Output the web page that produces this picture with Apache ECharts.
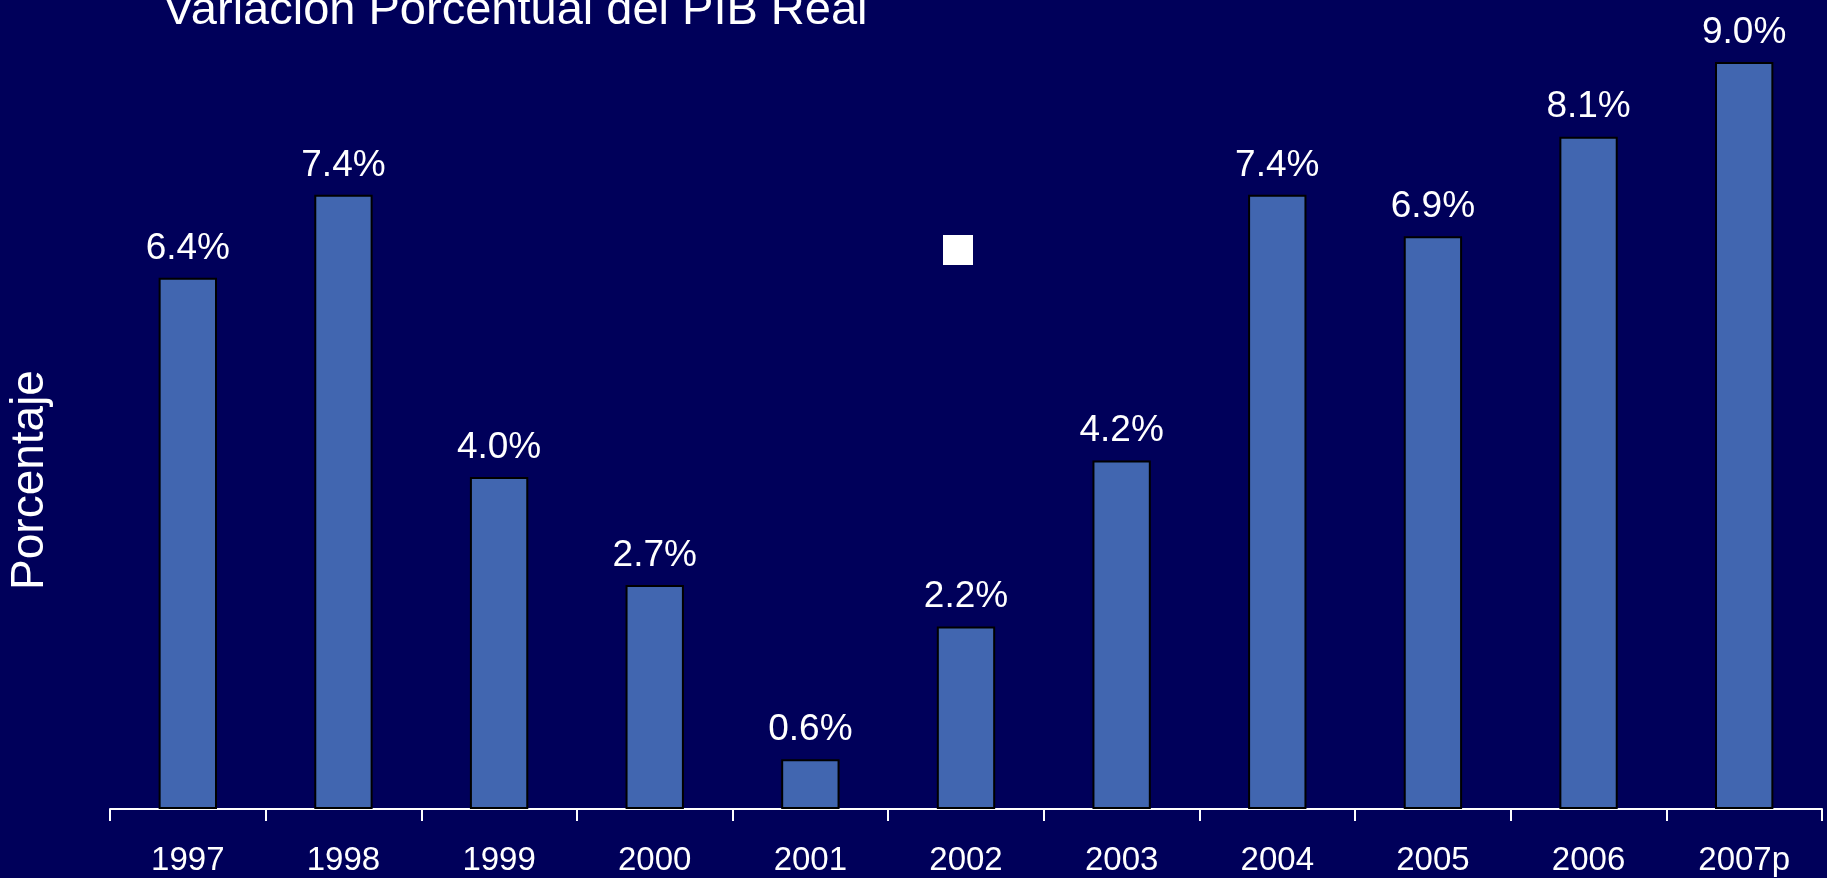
<!DOCTYPE html>
<html>
<head>
<meta charset="utf-8">
<script src="https://cdn.jsdelivr.net/npm/echarts@6/dist/echarts.min.js"></script>
<style>
  html, body { margin: 0; padding: 0; background: #00005a; }
  #chart { width: 1827px; height: 878px; }
</style>
</head>
<body>
<div id="chart"></div>
<script>
// años y variación del PIB real (%)
const years = ['1997', '1998', '1999', '2000', '2001', '2002', '2003', '2004', '2005', '2006', '2007p']
const pibVar = [6.4, 7.4, 4.0, 2.7, 0.6, 2.2, 4.2, 7.4, 6.9, 8.1, 9.0]

const chart = echarts.init(document.getElementById('chart'))

const fontFam = '"Liberation Sans", Arial, sans-serif'

chart.setOption({
  backgroundColor: '#00005a',
  animation: false,
  grid: { left: 110, right: 5, top: 62, bottom: 69 },
  xAxis: {
    type: 'category',
    data: years,
    boundaryGap: true,
    axisLine: { lineStyle: { color: '#ffffff', width: 2 } },
    axisTick: { show: true, length: 12, alignWithLabel: false, lineStyle: { color: '#ffffff', width: 2 } },
    axisLabel: { color: '#ffffff', fontSize: 33, fontFamily: fontFam, margin: 35 }
  },
  yAxis: {
    type: 'value',
    min: 0,
    max: 9,
    show: false
  },
  graphic: [
    {
      type: 'text',
      left: 163,
      top: -12,
      style: { text: 'Variación Porcentual del PIB Real', fill: '#ffffff', font: '47px "Liberation Sans", Arial, sans-serif' }
    },
    {
      type: 'text',
      x: 30,
      y: 480,
      rotation: Math.PI / 2,
      style: { text: 'Porcentaje', fill: '#ffffff', font: '46px "Liberation Sans", Arial, sans-serif', align: 'center', verticalAlign: 'middle' }
    },
    {
      type: 'rect',
      shape: { x: 943, y: 235, width: 30, height: 30 },
      style: { fill: '#ffffff' }
    }
  ],
  series: [{
    type: 'bar',
    data: pibVar,
    barWidth: '37.5%',
    itemStyle: { color: '#4166b0', borderColor: '#000000', borderWidth: 2 },
    label: {
      show: true,
      position: 'top',
      distance: 11,
      color: '#ffffff',
      fontSize: 37,
      fontFamily: fontFam,
      formatter: p => p.value.toFixed(1) + '%'
    }
  }]
})
</script>
</body>
</html>
